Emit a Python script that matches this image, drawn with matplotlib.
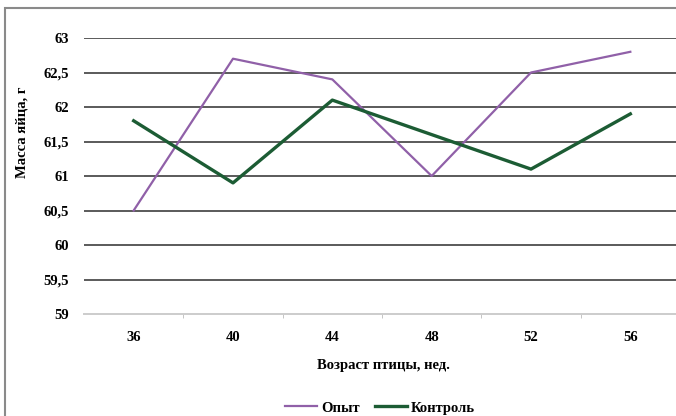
import matplotlib.pyplot as plt
from matplotlib.patches import Rectangle
from matplotlib.ticker import FixedLocator

weeks = ["36", "40", "44", "48", "52", "56"]
opyt = [60.5, 62.7, 62.4, 61.0, 62.5, 62.8]
kontrol = [61.8, 60.9, 62.1, 61.6, 61.1, 61.9]
yticks = [59, 59.5, 60, 60.5, 61, 61.5, 62, 62.5, 63]

plt.rcParams['font.family'] = ['Liberation Serif', 'DejaVu Serif']
plt.rcParams['font.weight'] = 'bold'

W, H = 676, 416
fig = plt.figure(figsize=(W / 100, H / 100), dpi=100)
fig.patches.append(Rectangle((5 / W, -0.1), 1.1, 1 - 8 / H + 0.1, transform=fig.transFigure,
                             fill=False, edgecolor="#8a8a8a", linewidth=1.5))

ax = fig.add_axes([84 / W, (H - 314) / H, (680 - 84) / W, 276 / H])
x = list(range(len(weeks)))
ax.plot(x, opyt, color="#9060a8", linewidth=1.6, label="Опыт")
ax.plot(x, kontrol, color="#1c5c34", linewidth=2.4, label="Контроль")

ax.set_xlim(-0.5, len(weeks) - 0.5)
ax.set_ylim(59, 63)
ax.set_yticks(yticks)
ax.set_yticklabels([("%g" % v).replace(".", ",") for v in yticks])
ax.set_xticks(x)
ax.set_xticklabels(weeks)
ax.xaxis.set_minor_locator(FixedLocator([i + 0.5 for i in x[:-1]]))
ax.tick_params(axis="x", which="major", length=0, pad=12, labelsize=10.5)
ax.tick_params(axis="x", which="minor", length=3, color="#bbbbbb")
ax.tick_params(axis="y", length=0, pad=11, labelsize=10.5)
for v in yticks[1:]:
    ax.axhline(v, color="#5a5a5a", linewidth=1.4, zorder=0)
for s in ["top", "right", "left"]:
    ax.spines[s].set_visible(False)
ax.spines["bottom"].set_color("#cccccc")
ax.spines["bottom"].set_linewidth(1.4)

fig.text(383 / W, 1 - 366 / H, "Возраст птицы, нед.", ha="center", va="center", fontsize=10.5)
fig.text(22 / W, 1 - 132 / H, "Масса яйца, г", ha="center", va="center", rotation=90, fontsize=10.5)
fig.legend(loc="center", bbox_to_anchor=(380 / W, 1 - 408 / H), ncol=2, frameon=False,
           fontsize=10.5, handlelength=2.2, handletextpad=0.3, columnspacing=1.0)

fig.savefig("out.png", dpi=100)
